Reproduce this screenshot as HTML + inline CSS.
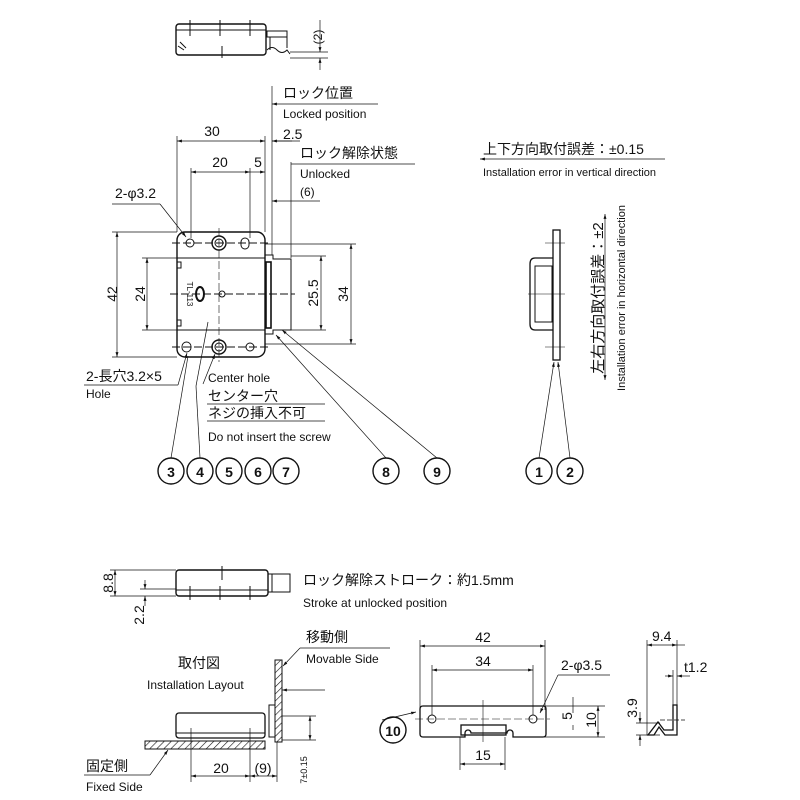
<!DOCTYPE html>
<html><head><meta charset="utf-8"><style>
html,body{margin:0;padding:0;background:#fff}
svg{display:block}
text{font-family:"Liberation Sans","Noto Sans CJK JP",sans-serif;fill:#111}
.t{font-size:14px}.s{font-size:12px}
</style></head><body>
<svg width="800" height="800" viewBox="0 0 800 800" xmlns="http://www.w3.org/2000/svg">
<defs>
<marker id="a" viewBox="0 0 10 10" refX="10" refY="5" markerWidth="7" markerHeight="7" orient="auto-start-reverse"><path d="M0,2 L10,5 L0,8z" fill="#111"/></marker>
<pattern id="h" width="5" height="5" patternUnits="userSpaceOnUse" patternTransform="rotate(45)"><line x1="0" y1="0" x2="0" y2="5" stroke="#111" stroke-width="1.2"/></pattern>
</defs>
<g stroke="#111" stroke-width="1" fill="none">
<rect x="176" y="24" width="90" height="31" rx="3" stroke-width="1.4"/>
<line x1="176" y1="30" x2="266" y2="30"/>
<line x1="190" y1="20" x2="190" y2="36"/><line x1="220" y1="20" x2="220" y2="36"/><line x1="250" y1="20" x2="250" y2="36"/><line x1="222" y1="46" x2="222" y2="58"/>
<path d="M178,46 l6,4 M180,42 l6,6" />
<rect x="267" y="31" width="20" height="6"/><line x1="270" y1="37" x2="270" y2="50"/><line x1="287" y1="37" x2="287" y2="48"/>
<path d="M267,50 q5,-5 10,0 t10,0 l3,4"/>
<line x1="290" y1="52" x2="328" y2="52" stroke-width=".7"/><line x1="290" y1="58" x2="328" y2="58" stroke-width=".7"/>
<line x1="320" y1="20" x2="320" y2="52" stroke-width=".7" marker-end="url(#a)"/><line x1="320" y1="70" x2="320" y2="58" stroke-width=".7" marker-end="url(#a)"/>
<rect x="177" y="232" width="88" height="125" rx="8" stroke-width="1.4"/>
<line x1="177" y1="258" x2="265" y2="258"/><line x1="177" y1="330" x2="265" y2="330"/>
<path d="M177,262 h4 v6 h-4 M177,320 h4 v6 h-4"/>
<circle cx="190" cy="243" r="4"/><circle cx="219" cy="243" r="7" stroke-width="1.4"/><circle cx="219" cy="243" r="4"/><rect x="241" y="238" width="8" height="11" rx="4"/>
<rect x="182" y="342" width="9" height="10" rx="4.5"/><circle cx="219" cy="347" r="7" stroke-width="1.4"/><circle cx="219" cy="347" r="4"/><circle cx="250" cy="347" r="4"/>
<ellipse cx="200" cy="294" rx="4" ry="7" stroke-width="2"/><circle cx="222" cy="294" r="3"/>
<line x1="172" y1="243" x2="270" y2="243" stroke-dasharray="8 3"/><line x1="172" y1="347" x2="270" y2="347" stroke-dasharray="8 3"/><line x1="170" y1="294" x2="295" y2="294" stroke-dasharray="8 3"/>
<line x1="219" y1="228" x2="219" y2="362" stroke-dasharray="8 3" stroke-width=".6"/>
<path d="M265,255 h8 v4 h18 v71 h-18 v4 h-8"/><rect x="266" y="262" width="5" height="66" stroke-width="1.6"/>
<g stroke-width=".7">
<line x1="177" y1="136" x2="177" y2="232"/><line x1="265" y1="136" x2="265" y2="232"/>
<line x1="177" y1="141" x2="265" y2="141" marker-start="url(#a)" marker-end="url(#a)"/>
<line x1="191" y1="168" x2="191" y2="238"/><line x1="250" y1="168" x2="250" y2="238"/>
<line x1="191" y1="172" x2="250" y2="172" marker-start="url(#a)" marker-end="url(#a)"/>
<line x1="250" y1="172" x2="265" y2="172" marker-end="url(#a)"/>
<line x1="272" y1="86" x2="272" y2="255"/><line x1="292" y1="141" x2="272" y2="141" marker-end="url(#a)"/><line x1="272" y1="141" x2="300" y2="141"/>
<line x1="272" y1="104" x2="378" y2="104" marker-start="url(#a)"/>
<line x1="291" y1="162" x2="291" y2="258"/><line x1="291" y1="164" x2="415" y2="164"/>
<line x1="272" y1="201" x2="320" y2="201" marker-start="url(#a)"/>
<line x1="112" y1="232" x2="177" y2="232"/><line x1="112" y1="357" x2="177" y2="357"/>
<line x1="117" y1="232" x2="117" y2="357" marker-start="url(#a)" marker-end="url(#a)"/>
<line x1="142" y1="258" x2="177" y2="258"/><line x1="142" y1="330" x2="177" y2="330"/>
<line x1="147" y1="258" x2="147" y2="330" marker-start="url(#a)" marker-end="url(#a)"/>
<line x1="291" y1="256" x2="326" y2="256"/><line x1="291" y1="330" x2="326" y2="330"/>
<line x1="321" y1="256" x2="321" y2="330" marker-start="url(#a)" marker-end="url(#a)"/>
<line x1="265" y1="244" x2="356" y2="244"/><line x1="265" y1="344" x2="356" y2="344"/>
<line x1="351" y1="244" x2="351" y2="344" marker-start="url(#a)" marker-end="url(#a)"/>
<line x1="112" y1="204" x2="160" y2="204"/><line x1="160" y1="204" x2="186" y2="237" marker-end="url(#a)"/>
<line x1="84" y1="385" x2="178" y2="385"/><line x1="178" y1="385" x2="187" y2="353" marker-end="url(#a)"/>
<line x1="203" y1="384" x2="215" y2="354" marker-end="url(#a)"/>
<line x1="207" y1="404" x2="325" y2="404"/><line x1="207" y1="421" x2="325" y2="421"/>
<line x1="171" y1="458" x2="188" y2="356"/><line x1="200" y1="458" x2="196" y2="386"/><line x1="196" y1="386" x2="208" y2="322"/>
<line x1="386" y1="458" x2="276" y2="335" marker-end="url(#a)"/><line x1="437" y1="458" x2="282" y2="330" marker-end="url(#a)"/>
<line x1="539" y1="458" x2="554" y2="362" marker-end="url(#a)"/><line x1="570" y1="458" x2="558" y2="362" marker-end="url(#a)"/>
<line x1="480" y1="159" x2="665" y2="159" marker-start="url(#a)"/>
<line x1="605" y1="214" x2="605" y2="380" marker-start="url(#a)" marker-end="url(#a)"/>
</g>
<g stroke-width="1.4"><circle cx="171" cy="471" r="13"/><circle cx="200" cy="471" r="13"/><circle cx="229" cy="471" r="13"/><circle cx="258" cy="471" r="13"/><circle cx="286" cy="471" r="13"/><circle cx="386" cy="471" r="13"/><circle cx="437" cy="471" r="13"/><circle cx="539" cy="471" r="13"/><circle cx="570" cy="471" r="13"/><circle cx="393" cy="730" r="13"/></g>
<rect x="553" y="230" width="7" height="130" stroke-width="1.3"/>
<path d="M553,258 h-18 q-5,0 -5,6 v60 q0,6 5,6 h18" stroke-width="1.3"/><rect x="535" y="266" width="17" height="56"/>
<line x1="545" y1="243" x2="565" y2="243" stroke-width=".6"/><line x1="545" y1="347" x2="565" y2="347" stroke-width=".6"/><line x1="528" y1="294" x2="565" y2="294" stroke-width=".6"/>
<rect x="176" y="570" width="92" height="26" rx="3" stroke-width="1.4"/><line x1="176" y1="590" x2="268" y2="590"/>
<line x1="222" y1="566" x2="222" y2="580"/><line x1="190" y1="586" x2="190" y2="600"/><line x1="220" y1="586" x2="220" y2="600"/><line x1="250" y1="586" x2="250" y2="600"/>
<path d="M268,574 h22 v18 h-22 M272,574 v18"/>
<g stroke-width=".7"><line x1="110" y1="570" x2="176" y2="570"/><line x1="110" y1="596" x2="176" y2="596"/>
<line x1="115" y1="570" x2="115" y2="596" marker-start="url(#a)" marker-end="url(#a)"/>
<line x1="140" y1="589" x2="176" y2="589"/><line x1="145" y1="580" x2="145" y2="589" marker-end="url(#a)"/><line x1="145" y1="606" x2="145" y2="596" marker-end="url(#a)"/></g>
<rect x="176" y="713" width="89" height="25" rx="3" stroke-width="1.3"/><line x1="176" y1="733" x2="265" y2="733"/>
<rect x="145" y="741" width="120" height="8" fill="url(#h)"/>
<rect x="275" y="660" width="7" height="82" fill="url(#h)"/><rect x="269" y="705" width="6" height="32"/>
<g stroke-width=".7">
<line x1="191" y1="728" x2="191" y2="782"/><line x1="250" y1="728" x2="250" y2="782"/><line x1="277" y1="742" x2="277" y2="782"/>
<line x1="191" y1="776" x2="250" y2="776" marker-start="url(#a)" marker-end="url(#a)"/><line x1="250" y1="776" x2="277" y2="776" marker-start="url(#a)" marker-end="url(#a)"/>
<line x1="282" y1="716" x2="316" y2="716"/><line x1="282" y1="740" x2="316" y2="740"/>
<line x1="310" y1="716" x2="310" y2="740" marker-start="url(#a)" marker-end="url(#a)"/>
<line x1="282" y1="690" x2="325" y2="690" marker-start="url(#a)"/>
<line x1="300" y1="648" x2="390" y2="648"/><line x1="300" y1="648" x2="283" y2="666" marker-end="url(#a)"/>
<line x1="84" y1="775" x2="150" y2="775"/><line x1="150" y1="775" x2="168" y2="750" marker-end="url(#a)"/>
</g>
<path d="M423,706 h120 q3,0 3,3 v25 q0,3 -3,3 h-30 v-4 a3,3 0 0 0 -6,0 h-36 a3,3 0 0 0 -6,0 v4 h-42 q-3,0 -3,-3 v-25 q0,-3 3,-3z" stroke-width="1.3"/>
<rect x="461" y="725" width="45" height="10" stroke-width="1.3"/>
<circle cx="432" cy="719" r="4"/><circle cx="533" cy="719" r="4"/>
<line x1="415" y1="719" x2="550" y2="719" stroke-dasharray="8 3" stroke-width=".6"/><line x1="483" y1="700" x2="483" y2="742" stroke-width=".6"/>
<g stroke-width=".7">
<line x1="420" y1="640" x2="420" y2="710"/><line x1="545" y1="640" x2="545" y2="710"/>
<line x1="420" y1="646" x2="545" y2="646" marker-start="url(#a)" marker-end="url(#a)"/>
<line x1="432" y1="665" x2="432" y2="715"/><line x1="533" y1="665" x2="533" y2="715"/>
<line x1="432" y1="670" x2="533" y2="670" marker-start="url(#a)" marker-end="url(#a)"/>
<line x1="460" y1="737" x2="460" y2="770"/><line x1="505" y1="737" x2="505" y2="770"/>
<line x1="460" y1="764" x2="505" y2="764" marker-start="url(#a)" marker-end="url(#a)"/>
<line x1="540" y1="706" x2="605" y2="706"/><line x1="540" y1="737" x2="605" y2="737"/>
<line x1="573" y1="697" x2="573" y2="713" /><line x1="573" y1="725" x2="573" y2="730"/>
<line x1="598" y1="706" x2="598" y2="737" marker-start="url(#a)" marker-end="url(#a)"/>
<line x1="558" y1="675" x2="540" y2="713" marker-end="url(#a)"/><line x1="558" y1="675" x2="610" y2="675"/>
<line x1="382" y1="720" x2="416" y2="712" marker-end="url(#a)"/>
<line x1="647" y1="640" x2="647" y2="735"/><line x1="677" y1="640" x2="677" y2="705"/>
<line x1="647" y1="645" x2="677" y2="645" marker-start="url(#a)" marker-end="url(#a)"/><line x1="677" y1="645" x2="685" y2="645"/>
<line x1="673" y1="670" x2="673" y2="705"/><line x1="665" y1="676" x2="673" y2="676" marker-end="url(#a)"/><line x1="690" y1="676" x2="677" y2="676" marker-end="url(#a)"/>
<line x1="636" y1="723" x2="660" y2="723"/><line x1="636" y1="735" x2="660" y2="735"/>
<line x1="640" y1="712" x2="640" y2="723" marker-end="url(#a)"/><line x1="640" y1="746" x2="640" y2="735" marker-end="url(#a)"/>
<line x1="660" y1="720" x2="685" y2="720" stroke-dasharray="5 2"/>
</g>
<path d="M673,705 h4 v30 h-12 l-6,-8 l-5,8 h-6 l10,-13 l6,8 h9z" stroke-width="1.3"/>
</g>
<g transform="rotate(-90 318 37)"><text x="318" y="41" class="s" text-anchor="middle">(2)</text></g>
<text x="283" y="98" class="t">ロック位置</text><text x="283" y="118" class="s">Locked position</text>
<text x="212" y="136" class="t" text-anchor="middle">30</text><text x="283" y="139" class="t">2.5</text>
<text x="220" y="167" class="t" text-anchor="middle">20</text><text x="258" y="167" class="t" text-anchor="middle">5</text>
<text x="300" y="158" class="t">ロック解除状態</text><text x="300" y="178" class="s">Unlocked</text><text x="300" y="196" class="s">(6)</text>
<text x="115" y="198" class="t">2-φ3.2</text>
<g transform="rotate(-90 112 294)"><text x="112" y="299" class="t" text-anchor="middle">42</text></g>
<g transform="rotate(-90 140 294)"><text x="140" y="299" class="t" text-anchor="middle">24</text></g>
<g transform="rotate(-90 313 293)"><text x="313" y="298" class="t" text-anchor="middle">25.5</text></g>
<g transform="rotate(-90 343 294)"><text x="343" y="299" class="t" text-anchor="middle">34</text></g>
<g transform="rotate(90 190 294)"><text x="190" y="297" font-size="8" text-anchor="middle">TL-113</text></g>
<text x="86" y="381" class="t">2-長穴3.2×5</text><text x="86" y="398" class="s">Hole</text>
<text x="208" y="382" class="s">Center hole</text><text x="208" y="401" class="t">センター穴</text><text x="208" y="418" class="t">ネジの挿入不可</text><text x="208" y="441" class="s">Do not insert the screw</text>
<g font-size="14" font-weight="bold" text-anchor="middle"><text x="171" y="477">3</text><text x="200" y="477">4</text><text x="229" y="477">5</text><text x="258" y="477">6</text><text x="286" y="477">7</text><text x="386" y="477">8</text><text x="437" y="477">9</text><text x="539" y="477">1</text><text x="570" y="477">2</text><text x="393" y="736">10</text></g>
<text x="483" y="154" class="t">上下方向取付誤差：±0.15</text><text x="483" y="176" font-size="11">Installation error in vertical direction</text>
<g transform="rotate(-90 598 298)"><text x="598" y="303" font-size="15" text-anchor="middle">左右方向取付誤差：±2</text></g>
<g transform="rotate(-90 621 298)"><text x="621" y="302" font-size="11" text-anchor="middle">Installation error in horizontal direction</text></g>
<g transform="rotate(-90 108 583)"><text x="108" y="588" class="t" text-anchor="middle">8.8</text></g>
<g transform="rotate(-90 139 615)"><text x="139" y="620" class="t" text-anchor="middle">2.2</text></g>
<text x="303" y="585" class="t">ロック解除ストローク：約1.5mm</text><text x="303" y="607" class="s">Stroke at unlocked position</text>
<text x="178" y="668" class="t">取付図</text><text x="147" y="689" class="s">Installation Layout</text>
<text x="306" y="642" class="t">移動側</text><text x="306" y="663" class="s">Movable Side</text>
<text x="86" y="771" class="t">固定側</text><text x="86" y="791" class="s">Fixed Side</text>
<text x="221" y="773" class="t" text-anchor="middle">20</text><text x="263" y="773" class="t" text-anchor="middle">(9)</text>
<g transform="rotate(-90 303 770)"><text x="303" y="774" font-size="9" text-anchor="middle">7±0.15</text></g>
<text x="483" y="642" class="t" text-anchor="middle">42</text><text x="483" y="666" class="t" text-anchor="middle">34</text><text x="483" y="760" class="t" text-anchor="middle">15</text>
<text x="561" y="670" class="t">2-φ3.5</text>
<g transform="rotate(-90 568 716)"><text x="568" y="720" class="t" text-anchor="middle">5</text></g>
<g transform="rotate(-90 591 720)"><text x="591" y="725" class="t" text-anchor="middle">10</text></g>
<text x="652" y="641" class="t">9.4</text><text x="684" y="672" class="t">t1.2</text>
<g transform="rotate(-90 632 708)"><text x="632" y="713" class="t" text-anchor="middle">3.9</text></g>
</svg>
</body></html>
